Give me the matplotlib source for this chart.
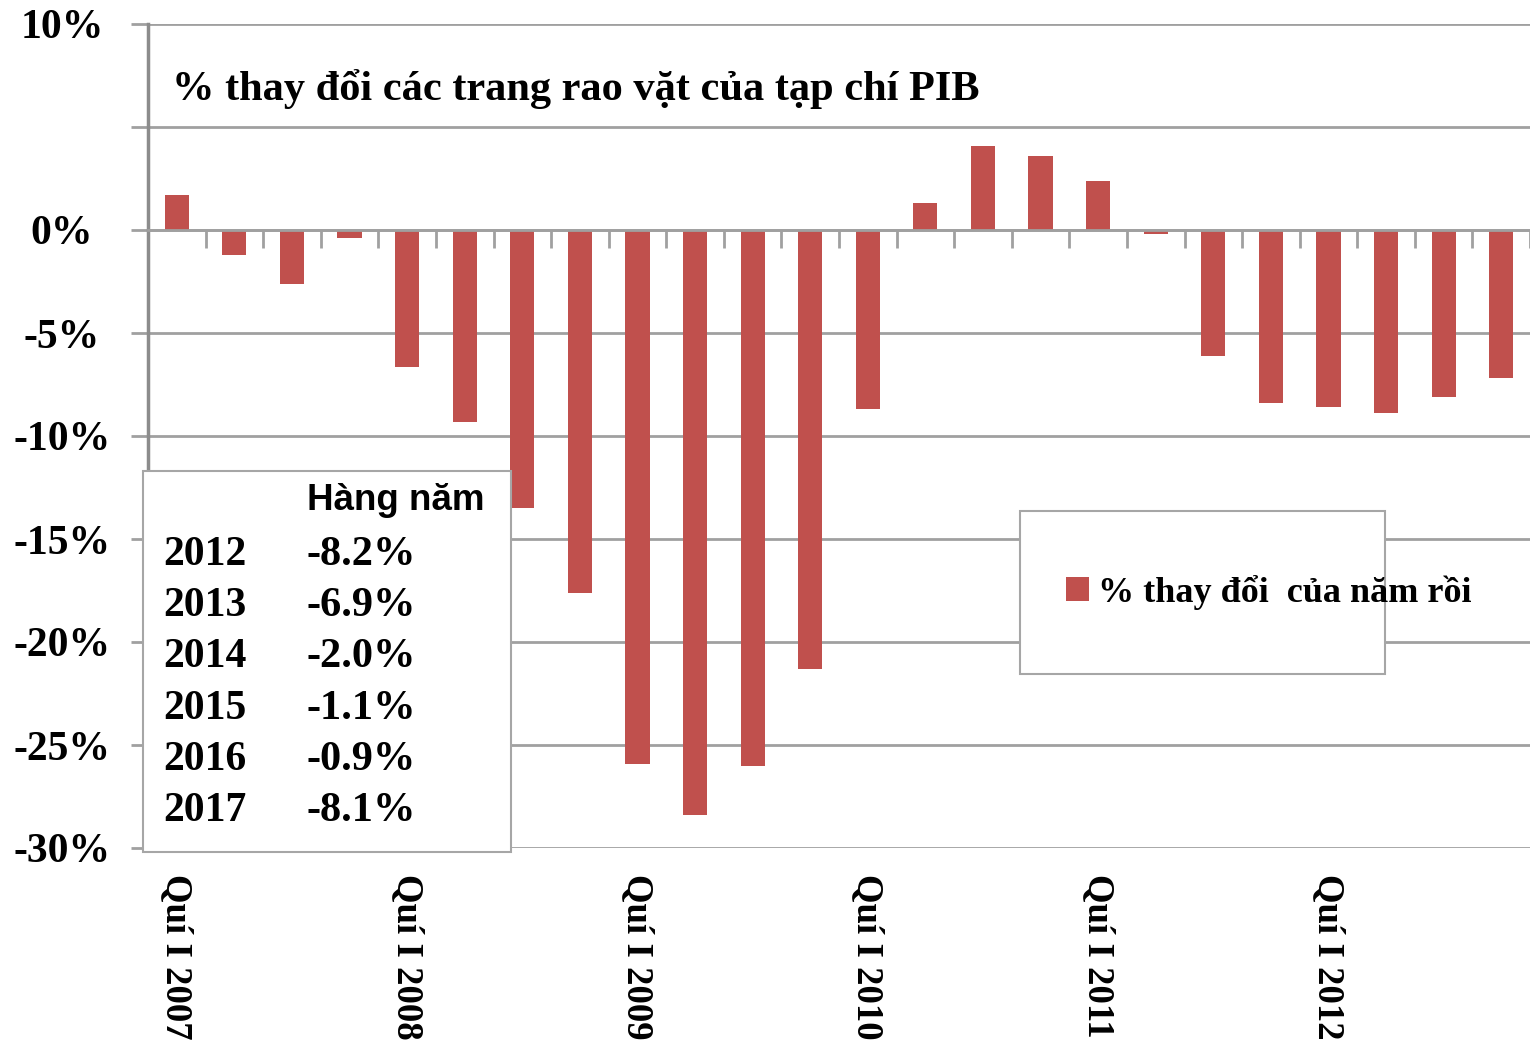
import numpy as np
import matplotlib.pyplot as plt
from matplotlib.patches import Rectangle

# quarterly change vs. previous year, 2007 Q1 .. 2012 Q4
values = [1.7, -1.2, -2.6, -0.4,
          -6.65, -9.3, -13.5, -17.6,
          -25.9, -28.4, -26.0, -21.3,
          -8.7, 1.3, 4.1, 3.6,
          2.4, -0.2, -6.1, -8.4,
          -8.6, -8.9, -8.1, -7.2]
year_labels = ["Quí I 2007", "Quí I 2008", "Quí I 2009",
               "Quí I 2010", "Quí I 2011", "Quí I 2012"]
yticks = [10, 5, 0, -5, -10, -15, -20, -25, -30]
ytick_labels = ["10%", "", "0%", "-5%", "-10%", "-15%", "-20%", "-25%", "-30%"]
table_years = ["2012", "2013", "2014", "2015", "2016", "2017"]
table_values = ["-8.2%", "-6.9%", "-2.0%", "-1.1%", "-0.9%", "-8.1%"]

title = "% thay đổi các trang rao vặt của tạp chí PIB"
legend_label = "% thay đổi  của năm rồi"

bar_color = "#C0504D"
grid_color = "#a0a0a0"
serif = ["Liberation Serif", "DejaVu Serif"]

W, H = 1530, 1043
fig = plt.figure(figsize=(W / 100, H / 100), dpi=100, facecolor="w")


def fx(px):
    return px / W


def fy(py):
    return 1 - py / H


ax = fig.add_axes([fx(148), fy(848), fx(1530) - fx(148), fy(24) - fy(848)])
x = np.arange(len(values))
bars = ax.bar(x, values, width=0.42, color=bar_color, zorder=3, label=legend_label)

ax.set_xlim(-0.5, len(values) - 0.5)
ax.set_ylim(-30, 10)
ax.set_yticks(yticks)
ax.set_yticklabels(ytick_labels, fontfamily=serif, fontweight="bold", fontsize=30)
ax.tick_params(axis="y", direction="out", length=12, width=2, color=grid_color, pad=50)
for lab in ax.get_yticklabels():
    lab.set_horizontalalignment("center")
ax.yaxis.grid(True, color=grid_color, linewidth=2, zorder=0)

for s in ["top", "right"]:
    ax.spines[s].set_visible(False)
ax.spines["left"].set_color("#8c8c8c")
ax.spines["left"].set_linewidth(2.5)
ax.spines["bottom"].set_position(("data", 0))
ax.spines["bottom"].set_color(grid_color)
ax.spines["bottom"].set_linewidth(2)
ax.spines["bottom"].set_zorder(4)

ax.set_xticks([])
ax.set_xticks(np.arange(len(values) + 1) - 0.5, minor=True)
ax.tick_params(axis="x", which="minor", direction="out", length=13, width=2, color=grid_color)
ax.tick_params(axis="x", which="major", length=0)

for i, lab in enumerate(year_labels):
    ax.text(i * 4, -0.032, lab, transform=ax.get_xaxis_transform(), rotation=270,
            ha="center", va="top", fontfamily=serif, fontweight="bold", fontsize=26.5)

fig.text(fx(172), fy(89), title, ha="left", va="center",
         fontfamily=serif, fontweight="bold", fontsize=30.5)

# annual table box
fig.patches.append(Rectangle((fx(143), fy(852)), fx(511) - fx(143), fy(471) - fy(852),
                             transform=fig.transFigure, facecolor="white",
                             edgecolor="#a6a6a6", linewidth=1.5, zorder=10))
fig.text(fx(307), fy(500), "Hàng năm", ha="left", va="center",
         fontfamily=["Liberation Sans", "DejaVu Sans"], fontweight="bold", fontsize=26.5, zorder=11)
for k, (yr, val) in enumerate(zip(table_years, table_values)):
    yy = fy(555 + k * 51.2)
    fig.text(fx(163), yy, yr, ha="left", va="center", fontfamily=serif,
             fontweight="bold", fontsize=30, zorder=11)
    fig.text(fx(307), yy, val, ha="left", va="center", fontfamily=serif,
             fontweight="bold", fontsize=30.5, zorder=11)

# legend box
fig.patches.append(Rectangle((fx(1020), fy(674)), fx(1385) - fx(1020), fy(511) - fy(674),
                             transform=fig.transFigure, facecolor="white",
                             edgecolor="#a6a6a6", linewidth=1.5, zorder=10))
leg = fig.legend(handles=[bars], loc="center left", bbox_to_anchor=(fx(1033), fy(592)),
                 frameon=False, handlelength=0.65, handleheight=0.65, handletextpad=0.25,
                 prop={"family": serif, "weight": "bold", "size": 26})
leg.set_zorder(11)

plt.savefig("out.png", dpi=100, facecolor="w")
